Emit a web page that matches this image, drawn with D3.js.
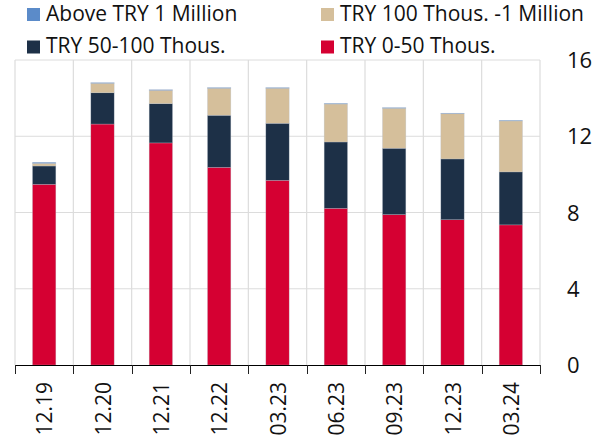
<!DOCTYPE html>
<html><head><meta charset="utf-8">
<script src="https://cdn.jsdelivr.net/npm/d3@7/dist/d3.min.js"></script>
<style>body{margin:0;background:#fff}svg{display:block;font-family:"Open Sans",sans-serif}</style>
</head><body><svg id="c" width="603" height="446"></svg>
<script>
const categories = ["12.19","12.20","12.21","12.22","03.23","06.23","09.23","12.23","03.24"];
const seriesNames = ["TRY 0-50 Thous.","TRY 50-100 Thous.","TRY 100 Thous. -1 Million","Above TRY 1 Million"];
const try0to50 = [9.48,12.64,11.65,10.37,9.69,8.22,7.89,7.62,7.35];
const try50to100 = [0.96,1.64,2.06,2.73,2.99,3.48,3.48,3.19,2.78];
const try100to1m = [0.14,0.50,0.70,1.42,1.84,1.99,2.10,2.37,2.67];
const above1m = [0.05,0.03,0.03,0.03,0.03,0.03,0.03,0.03,0.03];
const yTicks = [0,4,8,12,16];
const colors = ["#d50032","#1d3047","#d5bf9b","#5b8bc9"];

const svg = d3.select("#c");
const L = 15, R = 540, T = 60, B = 365;
const x = d3.scaleBand().domain(categories).range([L, R]).paddingInner(0.6).paddingOuter(0.3);
const xb = d3.scaleLinear().domain([0, categories.length]).range([L, R]);
const y = d3.scaleLinear().domain([0, 16]).range([B, T]);

const rows = categories.map((c, i) => ({cat: c, s0: try0to50[i], s1: try50to100[i], s2: try100to1m[i], s3: above1m[i]}));
const stack = d3.stack().keys(["s0","s1","s2","s3"])(rows);

// grid
const g = svg.append("g");
g.selectAll(".hg").data(yTicks.filter(d => d > 0)).join("line")
  .attr("x1", L).attr("x2", R).attr("y1", d => y(d)).attr("y2", d => y(d))
  .attr("stroke", "#dcdcdc").attr("stroke-width", 1);
g.selectAll(".vg").data(d3.range(categories.length + 1)).join("line")
  .attr("x1", d => xb(d)).attr("x2", d => xb(d)).attr("y1", T).attr("y2", B)
  .attr("stroke", "#dcdcdc").attr("stroke-width", 1.2);

// bars
svg.append("g").selectAll("g").data(stack).join("g")
  .attr("fill", (d, i) => colors[i])
  .selectAll("rect").data(d => d).join("rect")
  .attr("x", d => x(d.data.cat)).attr("width", x.bandwidth())
  .attr("y", d => y(d[1])).attr("height", d => Math.max(0, y(d[0]) - y(d[1])))
  .attr("stroke", "#b8c0cc").attr("stroke-width", 0.5).attr("stroke-opacity", 0.6);

// x axis
svg.append("line").attr("x1", L).attr("x2", R).attr("y1", B + 0.5).attr("y2", B + 0.5).attr("stroke", "#000").attr("stroke-width", 1);
svg.selectAll(".xt").data(d3.range(categories.length + 1)).join("line")
  .attr("x1", d => Math.round(xb(d)) + 0.5).attr("x2", d => Math.round(xb(d)) + 0.5)
  .attr("y1", B).attr("y2", B + 9).attr("stroke", "#222").attr("stroke-width", 1);
svg.selectAll(".xl").data(categories).join("text")
  .attr("transform", d => `translate(${x(d) + x.bandwidth() / 2 + 8},${382}) rotate(-90)`)
  .attr("text-anchor", "end").attr("font-size", 21).attr("fill", "#111").text(d => d);

// y labels (right)
svg.selectAll(".yl").data(yTicks).join("text")
  .attr("x", 567).attr("y", d => y(d) + 8).attr("font-size", 22).attr("fill", "#111").text(d => d);

// legend
const legend = [
  {name: seriesNames[3], color: colors[3], x: 27, y: 20.5},
  {name: seriesNames[2], color: colors[2], x: 321, y: 20.5},
  {name: seriesNames[1], color: colors[1], x: 27, y: 53},
  {name: seriesNames[0], color: colors[0], x: 321, y: 53}
];
const lg = svg.append("g").selectAll("g").data(legend).join("g").attr("transform", d => `translate(${d.x},${d.y})`);
lg.append("rect").attr("x", 0).attr("y", -12.5).attr("width", 13).attr("height", 13).attr("fill", d => d.color);
lg.append("text").attr("x", 19).attr("y", 0).attr("font-size", 21).attr("fill", "#111").text(d => d.name);
</script></body></html>
